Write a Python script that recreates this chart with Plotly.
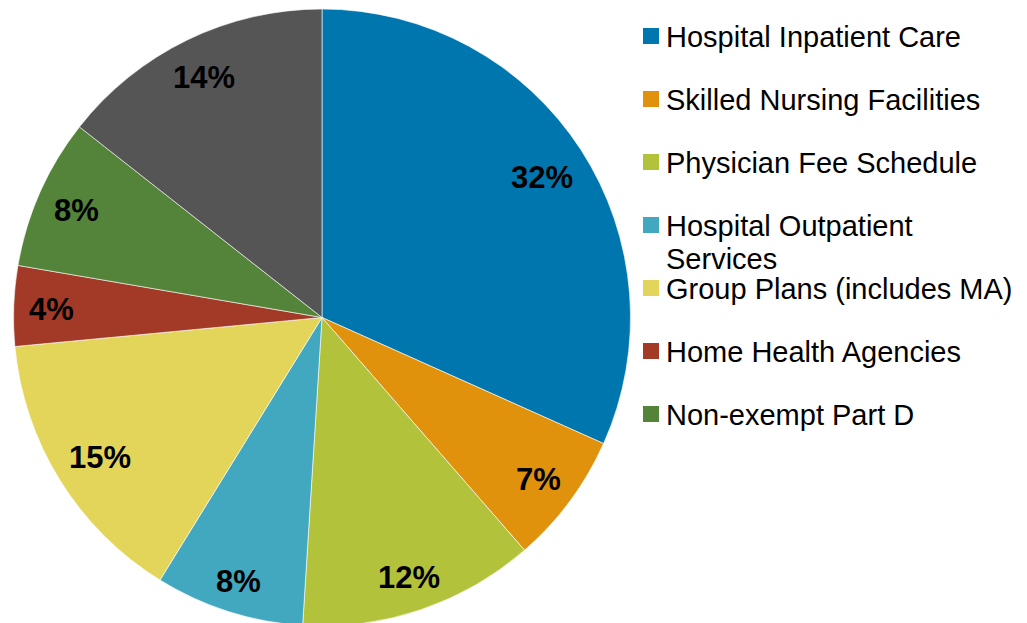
import numpy as np
import plotly.graph_objects as go

# ---- data ----
categories = [
    "Hospital Inpatient Care",
    "Skilled Nursing Facilities",
    "Physician Fee Schedule",
    "Hospital Outpatient<br>Services",
    "Group Plans (includes MA)",
    "Home Health Agencies",
    "Non-exempt Part D",
    "Other",
]
# shares (%); labels show them rounded
shares = [31.7, 6.9, 12.4, 7.8, 14.7, 4.2, 7.9, 14.4]
legend_items = 7  # the reference legend lists the first seven categories

colors = ["#0076AE", "#E1920C", "#B3C23B", "#42A8C0",
          "#E2D55A", "#A33A27", "#548439", "#555555"]

W, H = 1027, 623
FONT = "Liberation Sans, Arial, sans-serif"
OFF = 8  # page body margin offset

# pie geometry (target screen pixels)
cx, top, R = 322 - OFF, 9 - OFF, 308.5
cy = top + R
LABEL_SIZE = 31


def px(x):
    return x / W


def py(y):
    return (H - y) / H


fig = go.Figure()
fig.add_trace(go.Pie(
    labels=categories,
    values=shares,
    marker=dict(colors=colors, line=dict(color="white", width=0.6)),
    sort=False,
    direction="clockwise",
    rotation=0,
    textinfo="none",
    hoverinfo="label+percent",
    showlegend=False,
    domain=dict(x=[px(cx - R), px(cx + R)], y=[py(top + 2 * R), py(top)]),
))

annotations = []
shapes = []

# percentage labels at "inside end" of each slice (mid-angle)
vals = np.array(shares, dtype=float)
pct = vals / vals.sum() * 100
cum = np.cumsum(vals) - vals / 2
theta = cum / vals.sum() * 2 * np.pi
margin_in = 15
for p, t in zip(pct, theta):
    text = f"{int(p + 0.5)}%"
    ndig = len(text) - 1
    hw = LABEL_SIZE * (0.556 * ndig + 0.889) / 2 * 0.97
    hh = 11.5
    u = np.array([np.sin(t), -np.cos(t)])
    d = np.array([np.sign(u[0]) * hw, np.sign(u[1]) * hh])
    ud = u @ d
    r = -ud + np.sqrt(ud ** 2 - d @ d + (R - margin_in) ** 2)
    lx = cx + r * u[0]
    ly = cy + r * u[1] + 2
    annotations.append(dict(
        x=px(lx), y=py(ly), xref="paper", yref="paper",
        text=f"<b>{text}</b>", showarrow=False,
        xanchor="center", yanchor="middle",
        font=dict(family=FONT, size=LABEL_SIZE, color="black"),
    ))

# custom legend
leg_x0, leg_y0, step, line_gap, sq = 643 - OFF, 37 - OFF, 63, 33, 16
for i in range(legend_items):
    yc = leg_y0 + step * i
    shapes.append(dict(
        type="rect", xref="paper", yref="paper",
        x0=px(leg_x0), x1=px(leg_x0 + sq),
        y0=py(yc - 1 + sq / 2), y1=py(yc - 1 - sq / 2),
        fillcolor=colors[i], line=dict(width=0),
    ))
    for j, line in enumerate(categories[i].split("<br>")):
        annotations.append(dict(
            x=px(leg_x0 + sq + 5), y=py(yc + j * line_gap),
            xref="paper", yref="paper", text=line, showarrow=False,
            xanchor="left", yanchor="middle",
            font=dict(family=FONT, size=29, color="black"),
        ))

fig.update_layout(
    width=W, height=H,
    margin=dict(l=0, r=0, t=0, b=0),
    paper_bgcolor="white", plot_bgcolor="white",
    annotations=annotations, shapes=shapes,
    showlegend=False,
)

fig.write_html("out.html")
